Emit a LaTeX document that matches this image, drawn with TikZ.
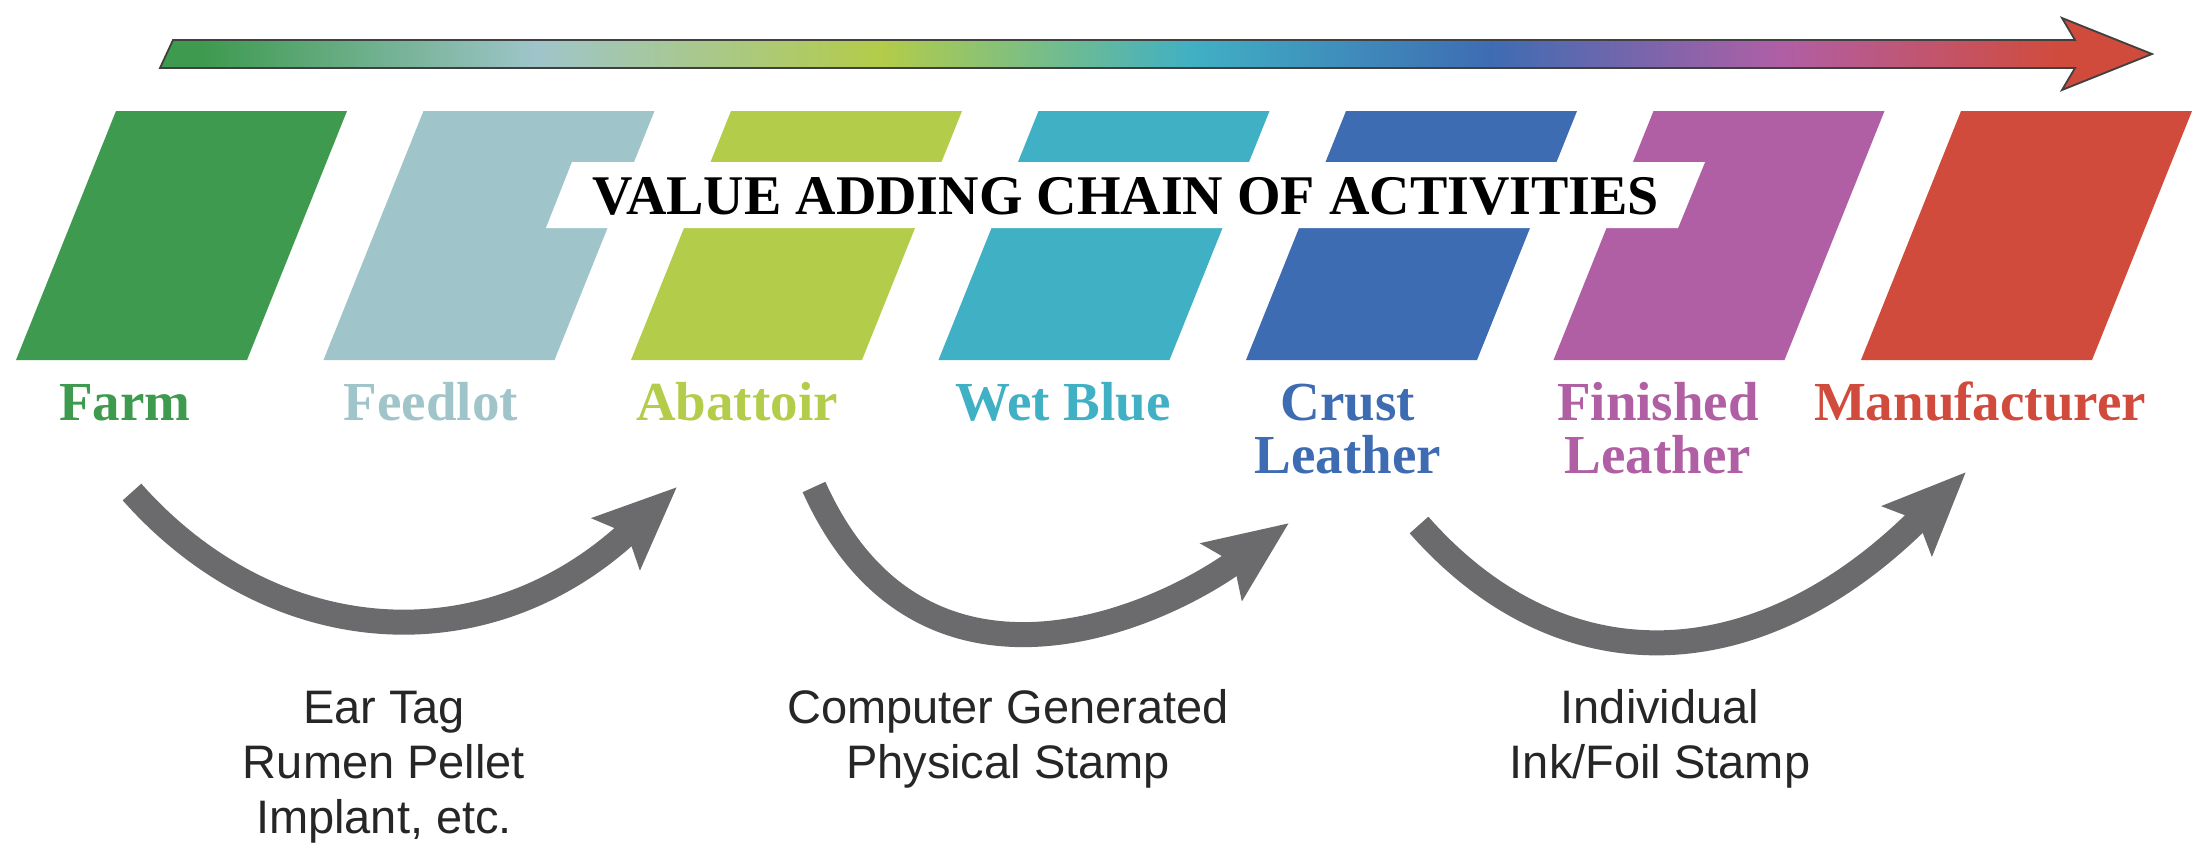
\documentclass[tikz,border=0pt]{standalone}
\usepackage{fontspec}
\setmainfont{Liberation Serif}
\setsansfont{Liberation Sans}
\usetikzlibrary{arrows.meta}

% stage colours
\definecolor{cfarm}{HTML}{3D9A4E}
\definecolor{cfeed}{HTML}{9FC5CA}
\definecolor{cabat}{HTML}{B3CC49}
\definecolor{cwet}{HTML}{40B0C4}
\definecolor{ccrust}{HTML}{3E6CB3}
\definecolor{cfin}{HTML}{B05FA5}
\definecolor{cman}{HTML}{D14B3C}
\definecolor{cgray}{HTML}{6B6B6D}
\definecolor{cnote}{HTML}{262626}

% colour run along the top arrow (path box maps to 25bp..75bp)
\pgfdeclarehorizontalshading{valuebar}{100bp}{%
  color(0bp)=(cfarm); color(26bp)=(cfarm); color(34.5bp)=(cfeed);
  color(43.1bp)=(cabat); color(50.9bp)=(cwet); color(58.4bp)=(ccrust);
  color(65.7bp)=(cfin); color(72.7bp)=(cman); color(100bp)=(cman)}

\tikzset{
  stage/.style={font=\bfseries\fontsize{27.5}{26.5}\selectfont, align=center,
    anchor=base, inner sep=0pt},
  note/.style={font=\sffamily\fontsize{23.5}{27.5}\selectfont, text=cnote,
    align=center, anchor=base, inner sep=0pt},
  flow/.style={draw=cgray, line width=12.5pt,
    -{Stealth[length=41pt, width=34pt, inset=7pt]}},
}

\begin{document}
\begin{tikzpicture}[x=0.5pt, y=-0.5pt]
\useasboundingbox (0,0) rectangle (2210,846);
\fill[white] (0,0) rectangle (2210,846);

% gradient arrow across the top
\shadedraw[shading=valuebar, draw=black!75, line width=0.9pt, line join=miter]
  (173,40) -- (2075,40) -- (2062,18) -- (2152,54) -- (2062,90)
  -- (2075,68) -- (160,68) -- cycle;

% slanted stage blocks
\foreach \i/\c in {0/cfarm, 1/cfeed, 2/cabat, 3/cwet, 4/ccrust, 5/cfin, 6/cman} {
  \pgfmathsetmacro\xa{116+307.5*\i}
  \fill[\c] (\xa,111) -- ++(231,0) -- ++(-100,249) -- ++(-231,0) -- cycle;
}

% title band cut through the blocks
\fill[white] (572,162) -- (1705,162) -- (1678,228) -- (546,228) -- cycle;
\node[font=\bfseries\fontsize{28}{30}\selectfont, anchor=base, inner sep=0pt]
  (title) at (1126,214) {VALUE ADDING CHAIN OF ACTIVITIES};

% stage names (multi-line nodes are placed by their last baseline)
\node[stage, text=cfarm]  (farm)  at (125,420)  {Farm};
\node[stage, text=cfeed]  (feed)  at (431,420)  {Feedlot};
\node[stage, text=cabat]  (abat)  at (737,420)  {Abattoir};
\node[stage, text=cwet]   (wet)   at (1063,420) {Wet Blue};
\node[stage, text=ccrust] (crust) at (1348,473) {Crust\\Leather};
\node[stage, text=cfin]   (fin)   at (1658,473) {Finished\\Leather};
\node[stage, text=cman]   (man)   at (1980,420) {Manufacturer};

% curved hand-over arrows
\coordinate (a1s) at (132,492);  \coordinate (a1e) at (677,487);
\coordinate (a2s) at (814,487);  \coordinate (a2e) at (1289,523);
\coordinate (a3s) at (1419,525); \coordinate (a3e) at (1966,472);
\draw[flow] (a1s) .. controls (272,650) and (485,666) .. (a1e);
\draw[flow] (a2s) .. controls (918,718) and (1148,625) .. (a2e);
\draw[flow] (a3s) .. controls (1559,684) and (1755,683) .. (a3e);

% identification methods
\node[note] (n1) at (384,833)  {Ear Tag\\Rumen Pellet\\Implant, etc.};
\node[note] (n2) at (1008,778) {Computer Generated\\Physical Stamp};
\node[note] (n3) at (1660,778) {Individual\\Ink/Foil Stamp};
\end{tikzpicture}
\end{document}
